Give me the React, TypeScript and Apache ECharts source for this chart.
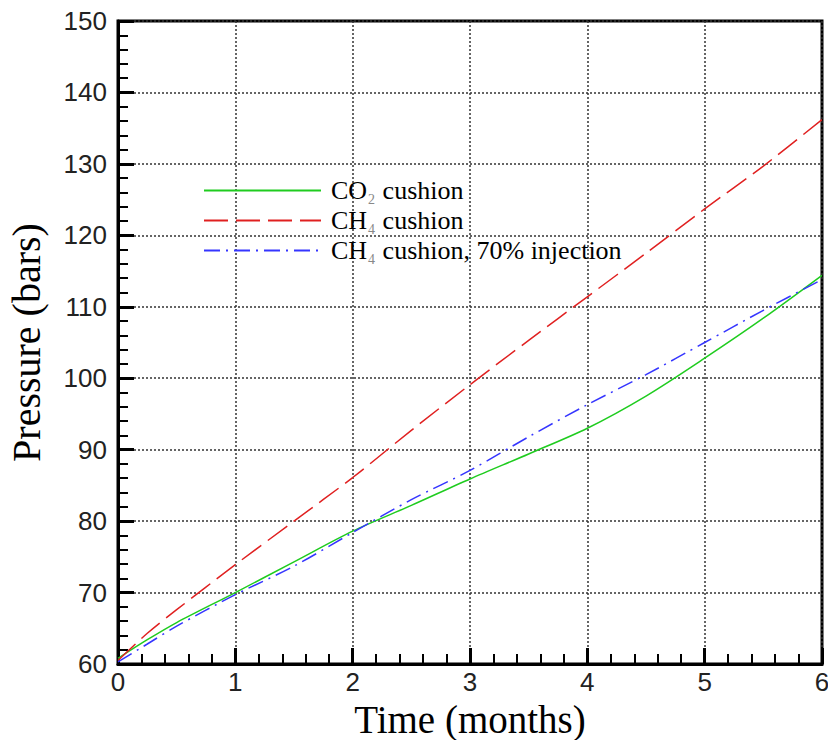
import React, { useEffect, useRef } from "react";
import * as echarts from "echarts";

const times = [0, 0.25, 0.5, 1, 1.5, 2, 2.5, 3, 3.5, 4, 4.5, 5, 5.5, 6];
const co2Cushion = [60.8, 63.4, 65.8, 70.0, 74.3, 78.6, 82.2, 85.9, 89.4, 93.0, 97.5, 102.8, 108.4, 114.4];
const ch4Cushion = [60.5, 64.3, 67.6, 73.9, 80.0, 86.1, 92.7, 99.1, 105.3, 111.4, 117.5, 123.7, 129.7, 136.2];
const ch4Cushion70 = [60.3, 62.8, 65.3, 69.7, 73.7, 78.4, 83.0, 87.1, 91.8, 96.3, 100.5, 105.0, 109.5, 113.8];

const seriesNames = ["CO2 cushion", "CH4 cushion", "CH4 cushion, 70% injection"];
const legendLabels: Record<string, string> = {
  "CO2 cushion": "{n|CO}{sub|2}{n| cushion}",
  "CH4 cushion": "{n|CH}{sub|4}{n| cushion}",
  "CH4 cushion, 70% injection": "{n|CH}{sub|4}{n| cushion, 70% injection}",
};

const toPairs = (vals: number[]) => times.map((t, i) => [t, vals[i]]);

export default function App() {
  const ref = useRef<HTMLDivElement>(null);
  useEffect(() => {
    if (!ref.current) return;
    const chart = echarts.init(ref.current, null, { renderer: "svg" });
    const rich = {
      n: { fontFamily: "Liberation Serif", fontSize: 26, lineHeight: 27, color: "#000", verticalAlign: "top" },
      sub: { fontFamily: "Liberation Serif", fontSize: 14, lineHeight: 14, color: "#888", verticalAlign: "top", padding: [15, 1, 0, 1] },
    };
    const legendTops = [172, 202, 232];
    const legends = seriesNames.map((name, i) => ({
      show: true,
      left: 198,
      top: legendTops[i],
      orient: "vertical",
      itemWidth: 117,
      itemHeight: 14,
      data: [name],
      selectedMode: false,
      itemStyle: { opacity: 0 },
      formatter: (nm: string) => legendLabels[nm],
      textStyle: { padding: [0, 0, 0, 5], rich },
    }));
    const axisCommon = {
      axisLine: { show: true, lineStyle: { color: "#000", width: 3 } },
      axisTick: { show: true, inside: true, length: 16, lineStyle: { color: "#000", width: 3 } },
      minorTick: { show: true, splitNumber: 5, length: 10, lineStyle: { color: "#000", width: 2 } },
      splitLine: { show: true, lineStyle: { color: "#333", width: 1.5, type: [2, 2] } },
      minorSplitLine: { show: false },
    };
    chart.setOption({
      animation: false,
      backgroundColor: "#fff",
      grid: {
        left: 118,
        right: 6,
        top: 21,
        bottom: 76,
        containLabel: false,
        outerBoundsMode: "none",
        show: true,
        borderColor: "#000",
        borderWidth: 3,
      },
      legend: legends,
      xAxis: {
        type: "value",
        min: 0,
        max: 6,
        interval: 1,
        name: "Time (months)",
        nameLocation: "middle",
        nameGap: 26,
        nameTextStyle: { fontFamily: "Liberation Serif", fontSize: 39, lineHeight: 39, color: "#000" },
        axisLabel: { fontFamily: "Liberation Sans", fontSize: 26, color: "#222", margin: 5 },
        ...axisCommon,
      },
      yAxis: {
        type: "value",
        min: 60,
        max: 150,
        interval: 10,
        name: "Pressure (bars)",
        nameLocation: "middle",
        nameGap: 72,
        nameTextStyle: { fontFamily: "Liberation Serif", fontSize: 40, lineHeight: 40, color: "#000" },
        axisLabel: { fontFamily: "Liberation Sans", fontSize: 26, color: "#222", margin: 11 },
        ...axisCommon,
      },
      series: [
        {
          name: seriesNames[0],
          type: "line",
          data: toPairs(co2Cushion),
          smooth: 0.3,
          symbol: "none",
          lineStyle: { color: "#1fcc1f", width: 1.5, type: "solid" },
          itemStyle: { color: "#1fcc1f" },
        },
        {
          name: seriesNames[1],
          type: "line",
          data: toPairs(ch4Cushion),
          smooth: 0.3,
          symbol: "none",
          lineStyle: { color: "#e02020", width: 1.5, type: [24, 8] },
          itemStyle: { color: "#e02020" },
        },
        {
          name: seriesNames[2],
          type: "line",
          data: toPairs(ch4Cushion70),
          smooth: 0.3,
          symbol: "none",
          lineStyle: { color: "#3535ff", width: 1.5, type: [16, 6, 2, 6] },
          itemStyle: { color: "#3535ff" },
        },
      ],
    });
    return () => chart.dispose();
  }, []);
  return <div ref={ref} style={{ position: "fixed", left: 0, top: 0, width: 828, height: 740 }} />;
}
